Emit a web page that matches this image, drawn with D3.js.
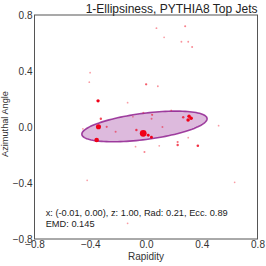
<!DOCTYPE html>
<html>
<head>
<meta charset="utf-8">
<script src="https://cdn.jsdelivr.net/npm/d3@7"></script>
<style>
  body { margin: 0; background: #fff; }
  svg { display: block; font-family: "Liberation Sans", Arial, sans-serif; }
</style>
</head>
<body>
<script>
var width = 266
var height = 266
var margin = {
  top: 15,
  bottom: 27,
  left: 34.5,
  right: 8.5
}

var title = '1-Ellipsiness, PYTHIA8 Top Jets'
var xLabel = 'Rapidity'
var yLabel = 'Azimuthal Angle'
var xTicks = [-0.8, -0.4, 0.0, 0.4, 0.8]
var yTicks = [-0.8, -0.4, 0.0, 0.4, 0.8]
var infoLines = ['x: (-0.01, 0.00), z: 1.00, Rad: 0.21, Ecc. 0.89', 'EMD: 0.145']

// particles: rapidity, azimuth, pT fraction
var partY = [0.075, 0.281, 0.130, 0.254, 0.303, 0.331, -0.401, -0.407, 0.001, 0.085,
             -0.344, -0.132, 0.181, -0.324, -0.019, 0.044, 0.040, -0.094, 0.267, 0.309,
             0.324, 0.302, 0.521, 0.118, -0.341, -0.453, -0.282, -0.218, -0.020, -0.069,
             0.016, 0.039, -0.354, -0.075, -0.011, 0.095, 0.227, 0.227, 0.303, 0.372,
             -0.422, 0.636, -0.132]
var partPhi = [0.706, 0.719, 0.641, 0.609, 0.609, 0.571, 0.388, 0.320, 0.305, 0.291,
               0.187, 0.174, 0.119, 0.059, 0.102, 0.087, 0.059, 0.074, 0.070, 0.077,
               0.062, 0.050, 0.009, 0.000, 0.002, -0.013, 0.001, -0.034, -0.045, -0.021,
               -0.059, -0.073, -0.093, -0.141, -0.179, -0.134, -0.107, -0.129, -0.076, -0.134,
               -0.381, -0.395, -0.688]
var partPt = [0.004, 0.006, 0.003, 0.004, 0.004, 0.005, 0.003, 0.003, 0.010, 0.004,
              0.035, 0.003, 0.003, 0.012, 0.003, 0.008, 0.005, 0.003, 0.012, 0.040,
              0.040, 0.040, 0.003, 0.005, 0.110, 0.003, 0.008, 0.006, 0.220, 0.012,
              0.020, 0.020, 0.080, 0.003, 0.006, 0.003, 0.008, 0.012, 0.003, 0.015,
              0.003, 0.003, 0.003]

// ellipse: center, semi-axes, tilt (deg)
var ellCenter = [-0.011, 0.004]
var ellAxes = [0.453, 0.094]
var ellAngle = [7.3]

var svg = d3.select('body').append('svg')
            .attr('width', width)
            .attr('height', height)

var xScale = d3.scaleLinear()
               .domain([-0.8, 0.8])
               .range([margin.left, width - margin.right])

var yScale = d3.scaleLinear()
               .domain([-0.8, 0.8])
               .range([height - margin.bottom, margin.top])

var rScale = d3.scaleSqrt()
               .domain([0, 0.22])
               .range([0.55, 3.4])

var opScale = d3.scaleLinear()
                .domain([0, 0.02])
                .range([0.28, 1])
                .clamp(true)

var th = ellAngle[0] * Math.PI / 180
var ellPts = d3.range(0, 361, 3).map(t => {
  var a = t * Math.PI / 180
  var u = ellAxes[0] * Math.cos(a)
  var v = ellAxes[1] * Math.sin(a)
  return [ellCenter[0] + u * Math.cos(th) - v * Math.sin(th),
          ellCenter[1] + u * Math.sin(th) + v * Math.cos(th)]
})

var ellLine = d3.line()
                .x(d => xScale(d[0]))
                .y(d => yScale(d[1]))
                .curve(d3.curveLinearClosed)

svg.append('path')
   .attr('d', ellLine(ellPts))
   .attr('fill', '#800080')
   .attr('fill-opacity', 0.27)
   .attr('stroke', '#800080')
   .attr('stroke-opacity', 0.72)
   .attr('stroke-width', 1.6)

var parts = partY.map((y, i) => ({ y: y, phi: partPhi[i], pt: partPt[i] }))

svg.append('g')
   .selectAll('circle')
   .data(parts)
   .enter()
   .append('circle')
   .attr('cx', d => xScale(d.y))
   .attr('cy', d => yScale(d.phi))
   .attr('r', d => rScale(d.pt))
   .attr('fill', '#f00018')
   .attr('fill-opacity', d => opScale(d.pt))

var xAxis = d3.axisBottom()
              .scale(xScale)
              .tickValues(xTicks)
              .tickFormat(d3.format('.1f'))
              .tickSize(0)
              .tickPadding(1.5)

var yAxis = d3.axisLeft()
              .scale(yScale)
              .tickValues(yTicks)
              .tickFormat(d3.format('.1f'))
              .tickSize(0)
              .tickPadding(2)

var gx = svg.append('g')
   .attr('transform', 'translate(' + [0, height - margin.bottom] + ')')
   .call(xAxis)

var gy = svg.append('g')
   .attr('transform', 'translate(' + [margin.left, 0] + ')')
   .call(yAxis)

;[gx, gy].forEach(g => {
  g.select('.domain').remove()
  g.selectAll('text')
   .attr('font-size', 10)
   .attr('font-family', '"Liberation Sans", Arial, sans-serif')
   .attr('fill', '#333')
})

svg.append('rect')
   .attr('x', margin.left)
   .attr('y', margin.top)
   .attr('width', width - margin.left - margin.right)
   .attr('height', height - margin.top - margin.bottom)
   .attr('fill', 'none')
   .attr('stroke', '#555')
   .attr('stroke-width', 1)

svg.append('text')
   .attr('x', width - margin.right)
   .attr('y', 13)
   .attr('text-anchor', 'end')
   .attr('font-size', 12)
   .attr('fill', '#222')
   .text(title)

svg.append('text')
   .attr('x', xScale(0))
   .attr('y', 260)
   .attr('text-anchor', 'middle')
   .attr('font-size', 10)
   .attr('fill', '#333')
   .text(xLabel)

svg.append('text')
   .attr('transform', 'translate(' + [8, 124] + ') rotate(-90)')
   .attr('text-anchor', 'middle')
   .attr('font-size', 9.2)
   .attr('fill', '#333')
   .text(yLabel)

svg.append('g')
   .selectAll('text')
   .data(infoLines)
   .enter()
   .append('text')
   .attr('x', 45.7)
   .attr('y', (d, i) => 215.8 + i * 11.6)
   .attr('font-size', 9.25)
   .attr('fill', '#222')
   .text(d => d)
</script>
</body>
</html>
